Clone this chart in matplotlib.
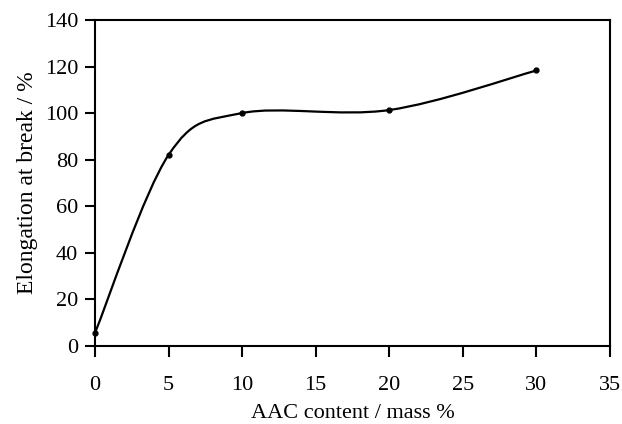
import numpy as np
import matplotlib
matplotlib.use("Agg")
from matplotlib import pyplot as plt
from matplotlib.path import Path
from matplotlib.patches import PathPatch

aac = [0, 5, 10, 20, 30]
elong = [5.5, 82, 100, 101.3, 118.3]

plt.rcParams['font.family'] = ['Liberation Serif', 'DejaVu Serif']

fig = plt.figure(figsize=(6.22, 4.24), dpi=100)
ax = fig.add_axes([95 / 622, 1 - 345.7 / 424, (610 - 95) / 622, (345.7 - 20) / 424])

# smoothed line like a spreadsheet: Catmull-Rom segments as cubic Bezier
pts = np.column_stack([aac, elong]).astype(float)
ext = np.vstack([pts[0], pts, pts[-1]])
verts = [tuple(pts[0])]
codes = [Path.MOVETO]
for i in range(1, len(ext) - 2):
    p0, p1, p2, p3 = ext[i - 1], ext[i], ext[i + 1], ext[i + 2]
    c1 = p1 + (p2 - p0) / 6
    c2 = p2 - (p3 - p1) / 6
    verts += [tuple(c1), tuple(c2), tuple(p2)]
    codes += [Path.CURVE4] * 3
ax.add_patch(PathPatch(Path(verts, codes), facecolor='none', edgecolor='black',
                       lw=1.6, clip_on=False))
ax.plot(aac, elong, 'o', color='black', ms=3.5, clip_on=False, zorder=3)

ax.set_xlim(0, 35)
ax.set_ylim(0, 140)
ax.set_xticks(range(0, 36, 5))
ax.set_yticks(range(0, 141, 20))
for s in ax.spines.values():
    s.set_linewidth(1.5)
ax.tick_params(axis='x', direction='out', length=8, width=1.5, pad=14, labelsize=16)
ax.tick_params(axis='y', direction='out', length=7, width=1.5, pad=5, labelsize=16)
ax.set_xlabel('AAC content / mass %', fontsize=16, labelpad=6)
ax.set_ylabel('Elongation at break / %', fontsize=17, labelpad=5)

fig.savefig('out.png', dpi=100)
